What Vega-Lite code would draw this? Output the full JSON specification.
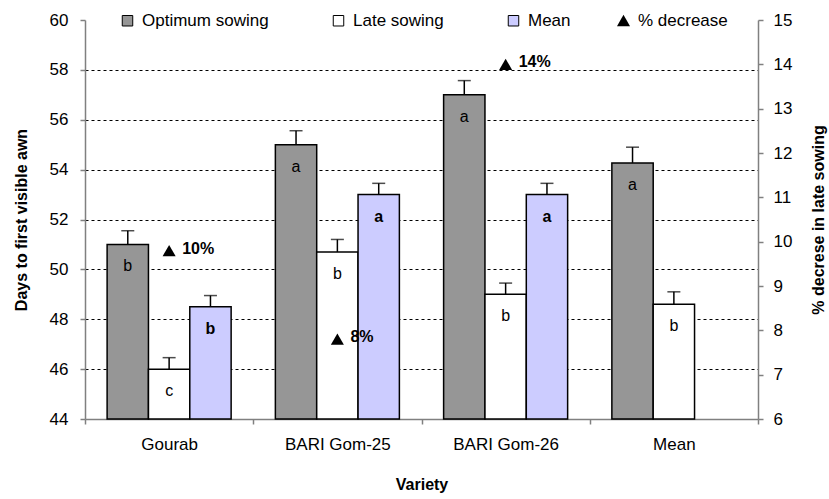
{
  "$schema": "https://vega.github.io/schema/vega-lite/v6.json",
  "width": 673,
  "height": 399,
  "autosize": {"type": "none"},
  "padding": {"left": 85, "top": 20, "right": 71, "bottom": 80},
  "background": "white",
  "config": {
    "font": "Liberation Sans",
    "view": {"stroke": null},
    "axis": {
      "labelFontSize": 17,
      "labelColor": "black",
      "titleFontSize": 16,
      "titleFontWeight": "bold",
      "titleColor": "black",
      "domainColor": "#808080",
      "domainWidth": 1.5,
      "tickColor": "#808080",
      "tickWidth": 1.5,
      "tickSize": 5
    },
    "legend": {"padding": 0}
  },
  "datasets": {
    "bars": [
      {"variety": "Gourab", "series": "Optimum sowing", "value": 51, "hi": 51.55, "letter": "b"},
      {"variety": "Gourab", "series": "Late sowing", "value": 46, "hi": 46.46, "letter": "c"},
      {"variety": "Gourab", "series": "Mean", "value": 48.5, "hi": 48.95, "letter": "b"},
      {"variety": "BARI Gom-25", "series": "Optimum sowing", "value": 55, "hi": 55.56, "letter": "a"},
      {"variety": "BARI Gom-25", "series": "Late sowing", "value": 50.7, "hi": 51.2, "letter": "b"},
      {"variety": "BARI Gom-25", "series": "Mean", "value": 53, "hi": 53.45, "letter": "a"},
      {"variety": "BARI Gom-26", "series": "Optimum sowing", "value": 57, "hi": 57.57, "letter": "a"},
      {"variety": "BARI Gom-26", "series": "Late sowing", "value": 49, "hi": 49.45, "letter": "b"},
      {"variety": "BARI Gom-26", "series": "Mean", "value": 53, "hi": 53.45, "letter": "a"},
      {"variety": "Mean", "series": "Optimum sowing", "value": 54.27, "hi": 54.9, "letter": "a"},
      {"variety": "Mean", "series": "Late sowing", "value": 48.6, "hi": 49.1, "letter": "b"}
    ],
    "dec": [
      {"variety": "Gourab", "key": "% decrease", "pct": 9.8, "label": "10%"},
      {"variety": "BARI Gom-25", "key": "% decrease", "pct": 7.8, "label": "8%"},
      {"variety": "BARI Gom-26", "key": "% decrease", "pct": 14.0, "label": "14%"}
    ]
  },
  "layer": [
    {
      "data": {"name": "bars"},
      "encoding": {
        "x": {
          "field": "variety",
          "type": "nominal",
          "sort": ["Gourab", "BARI Gom-25", "BARI Gom-26", "Mean"],
          "scale": {"domain": ["Gourab", "BARI Gom-25", "BARI Gom-26", "Mean"], "paddingInner": 0, "paddingOuter": 0},
          "axis": {
            "title": "Variety",
            "labelAngle": 0,
            "tickBand": "extent",
            "labelPadding": 12,
            "titlePadding": 24
          }
        },
        "xOffset": {
          "field": "series",
          "type": "nominal",
          "sort": ["Optimum sowing", "Late sowing", "Mean"],
          "scale": {"domain": ["Optimum sowing", "Late sowing", "Mean"], "paddingOuter": 0.535, "paddingInner": 0}
        },
        "y": {
          "field": "value",
          "type": "quantitative",
          "scale": {"domain": [44, 60], "zero": false, "nice": false},
          "axis": {
            "title": "Days to first visible awn",
            "orient": "left",
            "values": [44, 46, 48, 50, 52, 54, 56, 58, 60],
            "labelPadding": 12,
            "titlePadding": 20,
            "grid": true,
            "gridColor": "black",
            "gridDash": [3, 3],
            "gridWidth": 1,
            "gridOpacity": {"condition": {"test": "datum.value == 60 || datum.value == 44", "value": 0}, "value": 1}
          }
        }
      },
      "layer": [
        {
          "mark": {"type": "rule", "color": "black", "strokeWidth": 1.5},
          "encoding": {"y2": {"field": "hi"}}
        },
        {
          "mark": {"type": "tick", "color": "black", "thickness": 1.5, "size": 13},
          "encoding": {"y": {"field": "hi", "type": "quantitative"}}
        },
        {
          "mark": {"type": "bar", "stroke": "black", "strokeWidth": 1.5},
          "encoding": {
            "y2": {"datum": 44},
            "fill": {
              "field": "series",
              "type": "nominal",
              "scale": {"domain": ["Optimum sowing", "Late sowing", "Mean"], "range": ["#969696", "#FFFFFF", "#CCCCFF"]},
              "legend": {
                "orient": "none",
                "legendX": 34,
                "legendY": -8,
                "direction": "horizontal",
                "title": null,
                "symbolType": "square",
                "symbolSize": 110,
                "symbolStrokeColor": "black",
                "symbolStrokeWidth": 1,
                "labelFontSize": 17,
                "labelColor": "black",
                "labelOffset": 6,
                "columnPadding": 61
              }
            }
          }
        },
        {
          "transform": [{"filter": "datum.series != 'Mean'"}],
          "mark": {"type": "text", "dy": 27, "baseline": "alphabetic", "fontSize": 16, "color": "black"},
          "encoding": {"text": {"field": "letter"}}
        },
        {
          "transform": [{"filter": "datum.series == 'Mean'"}],
          "mark": {"type": "text", "dy": 27, "baseline": "alphabetic", "fontSize": 16, "fontWeight": "bold", "color": "black"},
          "encoding": {"text": {"field": "letter"}}
        }
      ]
    },
    {
      "data": {"name": "dec"},
      "encoding": {
        "x": {
          "field": "variety",
          "type": "nominal",
          "sort": ["Gourab", "BARI Gom-25", "BARI Gom-26", "Mean"]
        },
        "y": {
          "field": "pct",
          "type": "quantitative",
          "scale": {"domain": [6, 15], "zero": false, "nice": false},
          "axis": {
            "title": "% decrese in late sowing",
            "orient": "right",
            "values": [6, 7, 8, 9, 10, 11, 12, 13, 14, 15],
            "labelPadding": 10,
            "titlePadding": 35,
            "titleAngle": 270,
            "grid": false
          }
        }
      },
      "layer": [
        {
          "mark": {"type": "point", "filled": true, "color": "black", "size": 170, "opacity": 1},
          "encoding": {
            "shape": {
              "field": "key",
              "type": "nominal",
              "scale": {"domain": ["% decrease"], "range": ["triangle-up"]},
              "legend": {
                "orient": "none",
                "legendX": 530,
                "legendY": -8,
                "title": null,
                "symbolFillColor": "black",
                "symbolStrokeColor": "black",
                "symbolSize": 170,
                "labelFontSize": 17,
                "labelColor": "black",
                "labelOffset": 6
              }
            }
          }
        },
        {
          "mark": {"type": "text", "align": "left", "dx": 13, "dy": -2, "fontSize": 16, "fontWeight": "bold", "color": "black"},
          "encoding": {"text": {"field": "label"}}
        }
      ]
    }
  ],
  "resolve": {"scale": {"y": "independent"}}
}
